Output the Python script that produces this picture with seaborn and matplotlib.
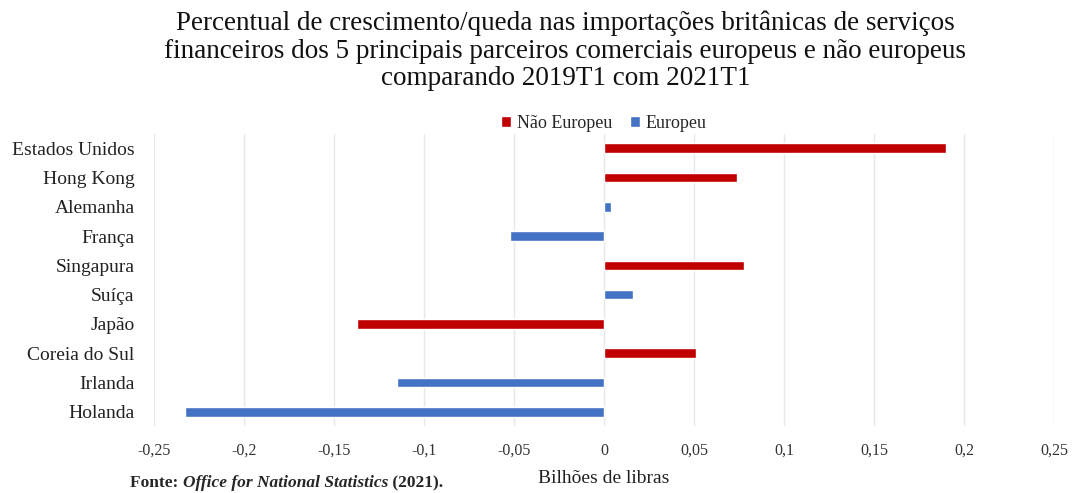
import matplotlib
matplotlib.use('Agg')
import matplotlib.pyplot as plt
import seaborn as sns
import pandas as pd

# data
paises = ['Estados Unidos', 'Hong Kong', 'Alemanha', 'França', 'Singapura',
          'Suíça', 'Japão', 'Coreia do Sul', 'Irlanda', 'Holanda']
valores = [0.190, 0.074, 0.004, -0.052, 0.078, 0.016, -0.137, 0.051, -0.115, -0.233]
grupo = ['Não Europeu', 'Não Europeu', 'Europeu', 'Europeu', 'Não Europeu',
         'Europeu', 'Não Europeu', 'Não Europeu', 'Europeu', 'Europeu']
xticks = [-0.25, -0.2, -0.15, -0.1, -0.05, 0, 0.05, 0.1, 0.15, 0.2, 0.25]
xtick_labels = ['-0,25', '-0,2', '-0,15', '-0,1', '-0,05', '0', '0,05', '0,1', '0,15', '0,2', '0,25']

df = pd.DataFrame({'Pais': paises, 'Valor': valores, 'Grupo': grupo})

sns.set_style('white')
plt.rcParams['font.family'] = ['Liberation Serif', 'DejaVu Serif']

fig = plt.figure(figsize=(10.73, 4.93), dpi=100)
ax = fig.add_axes([0.1435, 0.135, 0.8388, 0.594])

cores = {'Não Europeu': '#C00000', 'Europeu': '#4472C4'}
sns.barplot(data=df, x='Valor', y='Pais', hue='Grupo', hue_order=['Não Europeu', 'Europeu'],
            palette=cores, saturation=1, dodge=False, width=0.33, orient='h', ax=ax)

ax.set_xlim(-0.25, 0.25)
ax.set_ylim(9.5, -0.5)
ax.set_xticks(xticks)
ax.set_xticklabels(xtick_labels, fontsize=11.5, color='#333333')
ax.tick_params(axis='y', labelsize=14, length=0, pad=14, labelcolor='#222222')
ax.tick_params(axis='x', length=0, pad=12)
ax.grid(axis='x', color='#e8e8e8', linewidth=1)
ax.set_axisbelow(True)
for s in ax.spines.values():
    s.set_visible(False)
ax.set_ylabel('')
ax.set_xlabel('Bilhões de libras', fontsize=14, labelpad=8, color='#222222')

leg = ax.legend(loc='lower center', bbox_to_anchor=(0.5, 0.97), ncol=2, frameon=False,
                fontsize=13, handlelength=0.55, handleheight=0.55, handletextpad=0.3,
                columnspacing=1.0, borderpad=0.1)

fig.suptitle('Percentual de crescimento/queda nas importações britânicas de serviços\n'
             'financeiros dos 5 principais parceiros comerciais europeus e não europeus\n'
             'comparando 2019T1 com 2021T1', x=0.527, y=0.978, fontsize=19.5,
             linespacing=1.12, color='#111111')

# source line, pieces placed one after another
fig.canvas.draw()
renderer = fig.canvas.get_renderer()
partes = [('Fonte: ', 'normal'), ('Office for National Statistics', 'italic'), (' (2021).', 'normal')]
x0 = 130
for txt, estilo in partes:
    t = fig.text(x0 / 1073, 0.004, txt, fontsize=12.5, fontweight='bold', fontstyle=estilo,
                 va='bottom')
    x0 += t.get_window_extent(renderer).width

fig.savefig('out.png', dpi=100)
